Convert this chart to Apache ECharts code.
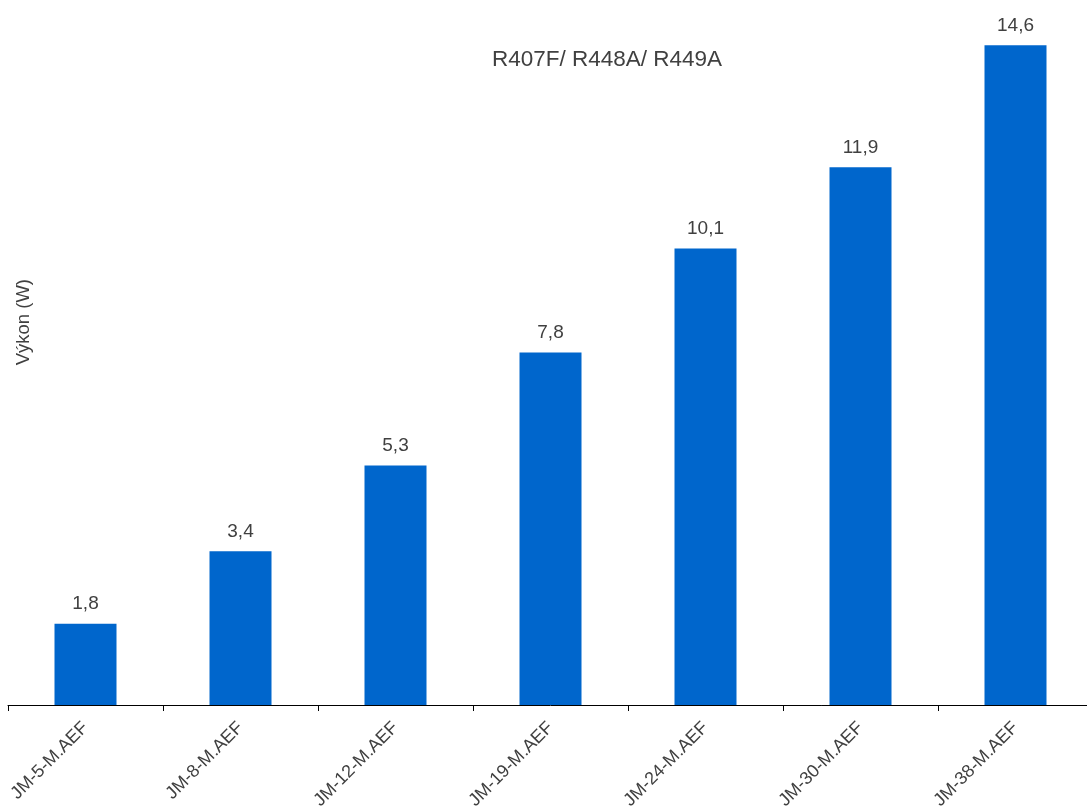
<!DOCTYPE html>
<html lang="cs">
<head>
    <meta charset="UTF-8"/>
    <title>Vykon</title>
    <script src="https://cdn.jsdelivr.net/npm/echarts@6/dist/echarts.min.js"></script>
    <style>
        html, body {margin: 0; padding: 0; background: #fff; overflow: hidden;}
    </style>
</head>
<body>
<!-- o kousek sirsi nez okno, osa X pokracuje za pravy okraj -->
<div id="main" style="width: 1093px;height:812px;"></div>

<script type="text/javascript">
    var models = ['JM-5-M.AEF', 'JM-8-M.AEF', 'JM-12-M.AEF', 'JM-19-M.AEF', 'JM-24-M.AEF', 'JM-30-M.AEF', 'JM-38-M.AEF'];
    var vykon = [1.8, 3.4, 5.3, 7.8, 10.1, 11.9, 14.6];

    var myChart = echarts.init(document.getElementById('main'));

    var font = 'Liberation Sans, Arial, sans-serif';

    var option = {
        animation: false,
        textStyle: {fontFamily: font},
        title: {
            text: 'R407F/ R448A/ R449A',
            left: 487,
            top: 43,
            textStyle: {fontSize: 22.5, fontWeight: 'normal', color: '#404040', fontFamily: font}
        },
        graphic: [{
            type: 'text',
            left: 14,
            top: 279,
            rotation: Math.PI / 2,
            style: {text: 'Výkon (W)', fontSize: 18.5, fill: '#404040', fontFamily: font}
        }],
        grid: {left: 8, right: 0, top: 0, bottom: 106},
        xAxis: {
            type: 'category',
            data: models,
            axisLine: {lineStyle: {color: '#000', width: 1}},
            axisTick: {show: true, length: 6, lineStyle: {color: '#000'}},
            axisLabel: {rotate: 45, fontSize: 18, color: '#404040', margin: 20}
        },
        yAxis: {
            type: 'value',
            min: 0,
            max: 15.6,
            show: false,
            splitLine: {show: false}
        },
        series: [{
            type: 'bar',
            data: vykon,
            barWidth: 62,
            itemStyle: {color: '#0066CC'},
            label: {
                show: true,
                position: 'top',
                distance: 10,
                fontSize: 19,
                color: '#404040',
                formatter: function (p) {
                    return String(p.value).replace('.', ',');
                }
            }
        }]
    };

    myChart.setOption(option);
</script>
</body>
</html>
